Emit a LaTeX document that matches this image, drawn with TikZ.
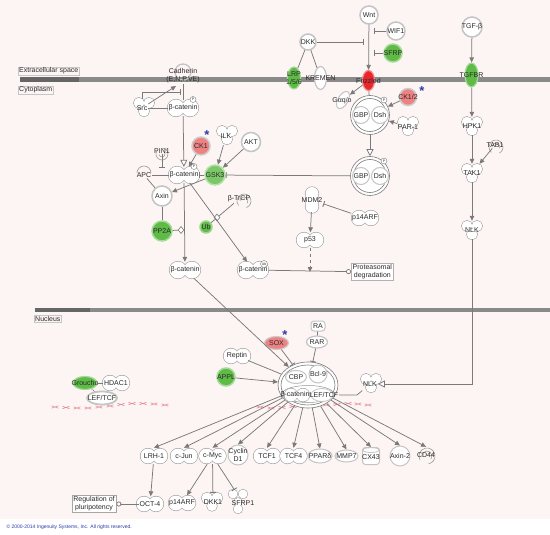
\documentclass[tikz,border=0pt]{standalone}
\usepackage{fontspec}
\setmainfont{Liberation Sans}
\usetikzlibrary{arrows.meta,shapes.geometric,calc}
\definecolor{bgp}{HTML}{FDF5F3}
\definecolor{lc}{HTML}{7A7A7A}
\definecolor{ring}{HTML}{C4C4C4}
\definecolor{grn}{HTML}{5DBB46}
\definecolor{lgrn}{HTML}{7CC868}
\definecolor{rd}{HTML}{E8262B}
\definecolor{lrd}{HTML}{EE8282}
\definecolor{dnar}{HTML}{E58A98}
\definecolor{astb}{HTML}{2B3BA8}
\definecolor{mem}{HTML}{8A8A8A}
\definecolor{memd}{HTML}{666666}
\definecolor{txt}{HTML}{2A2A2A}
\tikzset{
 lbl/.style={font=\fontsize{7}{7.8}\selectfont, text=txt, inner sep=0.8pt, align=center},
 shp/.style={draw=lc!75, line width=1.1pt},
 shp2/.style={draw=lc!75, line width=0.6pt},
 cn/.style={circle, draw=ring, line width=1.5pt, fill=white, inner sep=0pt, minimum size=#1},
 en/.style 2 args={ellipse, draw=ring, line width=1.2pt, fill=white, inner sep=0pt, minimum width=#1, minimum height=#2},
 con/.style={draw=lc, line width=0.75pt},
 arr/.style={con, -{Triangle[length=5pt,width=4.5pt]}},
 inh/.style={con, -{Bar[width=6pt,line width=0.9pt]}},
 oarr/.style={con, -{Triangle[open,length=7pt,width=7pt,fill=white]}},
 circ/.style={con, -{Circle[open,length=5pt,width=5pt,fill=white]}},
 dia/.style={diamond, draw=lc, fill=white, line width=0.6pt, inner sep=0pt, minimum width=6pt, minimum height=7pt},
 memlbl/.style={font=\fontsize{7}{8}\selectfont, text=txt, draw=gray!45, line width=0.4pt, inner sep=1pt, fill=bgp},
 pm/.style={circle, draw=lc, line width=0.4pt, fill=white, inner sep=0pt, minimum size=6pt, font=\fontsize{3.5}{4}\selectfont, text=txt},
 ast/.style={font=\fontsize{13}{13}\selectfont\bfseries, text=astb, inner sep=0pt},
 dna/.style={draw=dnar, line width=0.6pt},
 cpx/.style={circle, draw=lc, line width=0.6pt, fill=white, inner sep=0pt, minimum size=39pt}
}
\def\KINs{-5/-4/5.3,5/-4/5.3,0/4.2/5.3}
\def\PEAs{-7/0/8.5,7/0/8.5}
\def\PEBs{-6/0/7.5,6/0/7.5}
\def\VPEs{0/-6.5/6.5,0/0/6.5,0/6.5/6.5}
\newcommand\lob[3]{\edef\loblist{#3}%
  \foreach \dx/\dy/\rr in \loblist {\draw[shp] ({#1+\dx},{#2+\dy}) circle (\rr pt);}%
  \foreach \dx/\dy/\rr in \loblist {\fill[white] ({#1+\dx},{#2+\dy}) circle (\rr pt);}}
\newcommand\cres[4]{%
  \draw[shp2] ([shift={(#4:#3pt)}]#1,#2) arc[start angle=#4, end angle={#4+290}, radius=#3pt];
  \draw[shp2] ([shift={({#4+40}:{(#3-3)*1pt})}]#1,#2) arc[start angle={#4+40}, end angle={#4+250}, radius={(#3-3)*1pt}];}
\begin{document}
\begin{tikzpicture}[x=1pt,y=-1pt]
\useasboundingbox (0,0) rectangle (550,535);
\fill[white] (0,0) rectangle (550,535);
\fill[bgp] (0,0) rectangle (550,519);
% membranes
\fill[mem] (20,77.5) rectangle (550,82.5);
\fill[memd] (20,77.5) rectangle (79,82.5);
\fill[mem] (35,307.5) rectangle (550,312);
\fill[memd] (35,307.5) rectangle (90,312);
\node[memlbl, anchor=west] (ecs) at (18,71) {Extracellular space};
\node[memlbl, anchor=west] (cyto) at (18,90) {Cytoplasm};
\node[memlbl, anchor=west] (nuc) at (34,319) {Nucleus};
% DNA
\foreach \x/\y in {55/407,66/407.5,77/408,88/408,99/407,110/406,121/404.5,132/403.5,143/403.5,154/404,165/405,
  260/407,271/408,282/407.5,293/406.5,304/406,315/405.5,326/405,337/404.5,348/403.5,358/404,368/405}
  {\draw[dna] ({\x-3.5},{\y-1.2}) -- ({\x+3.5},{\y+1.2}) ({\x-3.5},{\y+1.2}) -- ({\x+3.5},{\y-1.2});}

% ---------- upper left ----------
\draw[ring, line width=1.3pt] (183,72) circle (8pt);
\node[lbl] (cad) at (183,76) {Cadherin\\(E,N,P,VE)};
\lob{144}{107}{\KINs}
\node[lbl, minimum height=18pt] (src) at (142,108) {Src};
\lob{183}{108}{\PEAs}
\node[lbl, minimum height=16pt] (bcat1) at (183,108) {β-catenin};
\node[pm] (p1) at (193,99.5) {P};
\node[cn=18pt, fill=lrd, draw=gray!40, label={[lbl]center:CK1}] (ck1) at (201,146) {};
\node[ast] (s1) at (207,135) {*};
\lob{227}{135}{\KINs}
\node[lbl, minimum height=18pt] (ilk) at (226,136) {ILK};
\node[cn=19pt, label={[lbl]center:AKT}] (akt) at (251,142) {};
\cres{162}{154}{6}{150}
\node[lbl] (pin1) at (162,151) {PIN1};
\draw[shp2] (137,173) arc[start angle=180, end angle=0, radius=7pt];
\node[lbl] (apc) at (144,175) {APC};
\lob{184}{175}{\PEAs}
\node[lbl, minimum height=16pt] (bcat2) at (184,175) {β-catenin};
\node[pm] (p2) at (194,166.5) {P};
\node[cn=20pt, fill=lgrn, draw=lgrn!55, label={[lbl]center:GSK3}] (gsk3) at (215,175) {};
\node[cn=20pt, label={[lbl]center:Axin}] (axin) at (162,196) {};
\node[cn=20pt, fill=grn, draw=grn!55, label={[lbl]center:PP2A}] (pp2a) at (162,231) {};
\cres{244}{201}{7}{-70}
\node[lbl] (btrcp) at (239,199) {β-TrCP};
\node[cn=12pt, fill=grn, draw=grn!60, label={[lbl]center:Ub}] (ub) at (206,227) {};
\lob{312}{200}{\VPEs}
\node[lbl, minimum height=24pt] (mdm2) at (312,200) {MDM2};
\lob{365}{218}{\PEBs}
\node[lbl, minimum height=15pt] (p14a) at (365,218) {p14ARF};
\lob{310}{240}{\PEBs}
\node[lbl, minimum height=15pt] (p53) at (310,240) {p53};
\lob{185}{270}{\PEAs}
\node[lbl, minimum height=16pt] (bcat3) at (185,270) {β-catenin};
\lob{253}{270}{\PEAs}
\node[lbl, minimum height=16pt] (bcat4) at (253,270) {β-catenin};
\node[pm, minimum size=7pt] (ub2) at (264,264) {Ub};
\node[lbl, draw=gray!60, fill=white, inner sep=1.5pt, anchor=west] (prot) at (351,272) {Proteasomal\\degradation};
\coordinate (pj) at (310,272);

% ---------- Wnt / Frizzled ----------
\node[cn=18pt, label={[lbl]center:Wnt}] (wnt) at (369,15) {};
\node[cn=18pt, label={[lbl]center:WIF1}] (wif1) at (396,31) {};
\node[cn=18pt, fill=grn, draw=grn!55, label={[lbl]center:SFRP}] (sfrp) at (393,53) {};
\node[cn=16pt, label={[lbl]center:DKK}] (dkk) at (308,42) {};
\node[en={13pt}{22pt}, fill=grn, draw=grn!55, label={[lbl]center:{LRP\\1/5/6}}] (lrp) at (294,78) {};
\node[en={12pt}{23pt}, label={[lbl]center:KREMEN}] (kremen) at (320.5,78) {};
\node[en={12pt}{20pt}, fill=rd, draw=rd!55, label={[lbl]center:Frizzled}] (frz) at (368.5,80.5) {};
\node[ellipse, draw=ring, line width=1pt, fill=white, inner sep=0pt, minimum width=10pt, minimum height=19pt, rotate=-30] (gaq) at (343,100) {};
\node[lbl] (gaqt) at (342,101) {Gαq/o};
\node[cpx] (cx1) at (370,115) {};
\draw[lc, line width=0.6pt] (370,115) circle (16.5pt);
\node[cn=17pt, line width=1pt, label={[lbl]center:GBP}] (gbp1) at (361,115) {};
\node[cn=17pt, line width=1pt, label={[lbl]center:Dsh}] (dsh1) at (380,115) {};
\node[pm] (p3) at (384,100) {P};
\node[cn=17pt, fill=lrd, draw=gray!40, label={[lbl]center:CK1/2}] (ck12) at (408,97) {};
\node[ast] (s2) at (422,91) {*};
\lob{408}{126}{\KINs}
\node[lbl, minimum height=18pt] (par1) at (408,127) {PAR-1};
\node[cpx] (cx2) at (370,176) {};
\draw[lc, line width=0.6pt] (370,176) circle (16.5pt);
\node[cn=17pt, line width=1pt, label={[lbl]center:GBP}] (gbp2) at (361,176) {};
\node[cn=17pt, line width=1pt, label={[lbl]center:Dsh}] (dsh2) at (380,176) {};
\node[pm] (p4) at (384,161) {P};

% ---------- TGF column ----------
\node[cn=20pt, label={[lbl]center:TGF-β}] (tgfb) at (472,27) {};
\node[en={13pt}{24pt}, fill=grn, draw=grn!55, label={[lbl]center:TGFBR}] (tgfbr) at (471.5,75) {};
\lob{472}{126}{\KINs}
\node[lbl, minimum height=18pt] (hpk1) at (472,126) {HPK1};
\cres{496}{147}{7}{-60}
\node[lbl] (tab1) at (495,145) {TAB1};
\lob{472}{173}{\KINs}
\node[lbl, minimum height=18pt] (tak1) at (472,173) {TAK1};
\lob{472}{230}{\KINs}
\node[lbl, minimum height=18pt] (nlk1) at (472,230) {NLK};

% ---------- nucleus ----------
\node[en={24pt}{13pt}, fill=lrd, draw=gray!40, label={[lbl]center:SOX}] (sox) at (276.5,343) {};
\node[ast] (s3) at (285,335) {*};
\node[lbl, draw=ring, line width=1pt, rounded corners=3pt, fill=white, minimum width=14pt, minimum height=10pt] (ra) at (318,326) {RA};
\node[en={21pt}{12pt}, label={[lbl]center:RAR}] (rar) at (317,342) {};
\lob{237}{356}{\PEBs}
\node[lbl, minimum height=15pt] (reptin) at (237,356) {Reptin};
\node[cn=18pt, fill=grn, draw=grn!55, label={[lbl]center:APPL}] (appl) at (226,377) {};
\node[ellipse, draw=lc, line width=0.6pt, fill=white, inner sep=0pt, minimum width=60pt, minimum height=46pt] (bigcx) at (308,385) {};
\draw[lc, line width=0.6pt] (308,385) ellipse (27pt and 20pt);
\draw[lc!80, line width=0.5pt] (308,394) ellipse (26pt and 8.5pt);
\node[en={21pt}{13pt}, line width=1pt, label={[lbl]center:CBP}] (cbp) at (296,377) {};
\node[cn=18pt, line width=1pt, label={[lbl]center:Bcl-9}] (bcl9) at (318,374) {};
\lob{297}{395}{-6/0/6.5,6/0/6.5}
\node[en={22pt}{13pt}, line width=0.8pt] (lefc) at (322,395) {};
\node[lbl] (bcatn) at (295,395) {β-catenin};
\node[lbl] (lef) at (324,395) {LEF/TCF};
\lob{371}{383}{\KINs}
\node[lbl, minimum height=18pt] (nlk2) at (370,384) {NLK};
\coordinate (nj) at (357,395);
\node[en={24pt}{13pt}, fill=grn, draw=grn!55, label={[lbl]center:Groucho}] (groucho) at (85,383) {};
\lob{116}{383}{\PEBs}
\node[lbl, minimum height=15pt] (hdac1) at (116,383) {HDAC1};
\node[en={30pt}{13pt}, line width=1.8pt, label={[lbl]center:LEF/TCF}] (leftcf) at (102,398) {};

% ---------- targets ----------
\lob{154}{456}{\PEBs}
\node[lbl, minimum height=16pt] (lrh1) at (154,456) {LRH-1};
\lob{184}{456}{\PEBs}
\node[lbl, minimum height=16pt] (cjun) at (184,456) {c-Jun};
\lob{212.5}{456}{\PEBs}
\node[lbl, minimum height=16pt] (cmyc) at (212.5,456) {c-Myc};
\node[cn=20pt, line width=1pt, label={[lbl]center:{Cyclin\\D1}}] (cycd1) at (238,455) {};
\lob{267}{456}{\PEBs}
\node[lbl, minimum height=16pt] (tcf1) at (267,456) {TCF1};
\lob{293.5}{456}{\PEBs}
\node[lbl, minimum height=16pt] (tcf4) at (293.5,456) {TCF4};
\node[en={24pt}{14pt}, line width=1pt, label={[lbl]center:PPARδ}] (ppard) at (320,456) {};
\node[en={23pt}{12pt}, line width=1pt, label={[lbl]center:MMP7}] (mmp7) at (346.5,456) {};
\node[rectangle, draw=ring, line width=1pt, fill=white, rounded corners=3pt, minimum width=17pt, minimum height=17pt] (cx43) at (371,456) {};
\draw[ring, line width=0.8pt] (371,450) ellipse (8pt and 2.5pt);
\node[lbl] (cx43t) at (371,457) {CX43};
\node[cn=20pt, line width=1pt, label={[lbl]center:Axin-2}] (axin2) at (400,456) {};
\cres{427}{456}{8}{-80}
\node[lbl, minimum height=16pt] (cd44) at (426,455) {CD44};
\lob{150}{504}{\PEBs}
\node[lbl, minimum height=15pt] (oct4) at (150,504) {OCT-4};
\lob{182}{503}{\PEBs}
\node[lbl, minimum height=15pt] (p14b) at (182,503) {p14ARF};
\lob{212}{502}{-5/-4/5.5,5/-4/5.5,0/4/5}
\node[lbl, minimum height=18pt] (dkk1) at (213,502) {DKK1};
\lob{238}{502}{-5/-8/4.5,5/-8/4.5,0/0/4,0/7/4.5}
\node[lbl, minimum height=26pt] (sfrp1) at (243,503) {SFRP1};
\node[lbl, draw=gray!70, fill=white, inner sep=1.5pt] (reg) at (94,504) {Regulation of\\pluripotency};

% ---------- connectors ----------
\draw[arr] (wnt) -- (frz);
\coordinate (wb1) at (374,31); \draw[inh] (wif1) -- (wb1);
\coordinate (wb2) at (374,53); \draw[inh] (sfrp) -- (wb2);
\coordinate (wb3) at (364,42); \draw[inh] (dkk) -- (wb3);
\draw[con] (dkk) -- (lrp);
\draw[con] (dkk) -- (kremen);
\draw[arr] (frz) -- (gaq);
\draw[con] (frz) -- (cx1);
\draw[arr] (ck12) -- (cx1);
\draw[arr] (par1) -- (cx1);
\draw[oarr] (cx1) -- (cx2);
\draw[inh] (cx2) -- (gsk3);
\draw[con] (cad) -- (bcat1);
\draw[oarr] (bcat1) -- (bcat2);
\coordinate (cb1) at (181,92); \draw[inh] (src.north) |- (cb1);
\coordinate (ca1) at (176,86); \draw[arr] (src) -- (ca1);
\draw[con] (src) -- (bcat1);
\draw[arr] (ck1) -- (bcat2);
\draw[arr] (ilk) -- (gsk3);
\draw[arr] (akt) -- (gsk3);
\coordinate (pb) at (162,168); \draw[inh] (pin1) -- (pb);
\draw[con] (apc) -- (bcat2);
\draw[inh] (gsk3) -- (bcat2);
\draw[arr] (gsk3) -- (axin);
\draw[con] (apc) -- (axin);
\draw[con] (axin) -- (pp2a);
\coordinate (d1c) at (181,230); \draw[con] (pp2a) -- (d1c);
\draw[con] (ub) -- (btrcp);
\node[dia] (d1) at (181,230) {};
\node[dia] (d2) at (217,217.5) {};
\draw[arr] (bcat2) -- (bcat3);
\draw[arr] (bcat2) -- (bcat4);
\draw[circ] (bcat4) -- (prot);
\draw[inh] (p14a) -- (mdm2);
\draw[arr] (mdm2) -- (p53);
\draw[arr, dashed] (p53) -- (pj);
\draw[arr] (bcat3) -- (bigcx);
\draw[arr] (tgfb) -- (tgfbr);
\draw[arr] (tgfbr) -- (hpk1);
\draw[arr] (hpk1) -- (tak1);
\draw[arr] (tab1) -- (tak1);
\draw[arr] (tak1) -- (nlk1);
\draw[oarr] (nlk1) |- (nlk2);
\draw[inh] (sox) -- (bigcx);
\draw[con] (ra) -- (rar);
\draw[inh] (rar) -- (bigcx);
\draw[con] (reptin) -- (bigcx);
\draw[arr] (appl) -- (bigcx);
\draw[con] (lef.east) -- (nj) -- (nlk2);
\draw[con] (groucho) -- (hdac1);
\draw[con, densely dotted] (groucho) -- (leftcf);
\foreach \t in {lrh1,cjun,cmyc,cycd1,tcf1,tcf4,ppard,mmp7,cx43,axin2,cd44}
  {\draw[arr] (bigcx) -- (\t.north);}
\draw[arr] (lrh1) -- (oct4);
\draw[circ] (oct4) -- (reg);
\draw[arr] (cmyc) -- (p14b);
\draw[inh] (cmyc) -- (dkk1);
\draw[inh] (cmyc) -- (sfrp1);

\node[anchor=west, font=\fontsize{5}{6}\selectfont, text=astb] (copy) at (3,527) {© 2000-2014 Ingenuity Systems, Inc. All rights reserved.};
\end{tikzpicture}
\end{document}
